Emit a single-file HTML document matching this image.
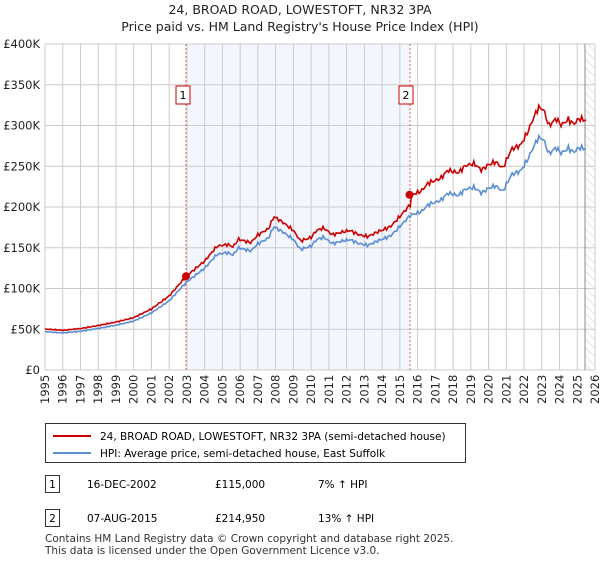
<!DOCTYPE html>
<html><head><meta charset="utf-8"><style>
body{margin:0;background:#fff;font-family:"Liberation Sans","DejaVu Sans",sans-serif;}
svg text{font-family:"DejaVu Sans","Liberation Sans",sans-serif;}
</style></head><body>
<svg id="s" width="600" height="560" xmlns="http://www.w3.org/2000/svg">
<defs><pattern id="h" width="6" height="6" patternUnits="userSpaceOnUse" patternTransform="rotate(-45)"><line x1="0" y1="0" x2="0" y2="6" stroke="#ccc" stroke-width="1"/></pattern></defs>
<text x="300" y="14" font-size="12.5" text-anchor="middle" fill="#222">24, BROAD ROAD, LOWESTOFT, NR32 3PA</text>
<text x="300" y="31" font-size="12.5" text-anchor="middle" fill="#222">Price paid vs. HM Land Registry's House Price Index (HPI)</text>
<rect x="186" y="44" width="224" height="326" fill="#eef2fc" opacity="0.7"/>
<rect x="585" y="44" width="10" height="326" fill="url(#h)"/>
<g id="grid" stroke="#cccccc" stroke-width="1"></g>
<line x1="585" y1="44" x2="585" y2="370" stroke="#888" stroke-width="1"/>
<line x1="186" y1="44" x2="186" y2="370" stroke="#e06060" stroke-dasharray="2,2" stroke-width="1"/>
<line x1="410" y1="44" x2="410" y2="370" stroke="#e06060" stroke-dasharray="2,2" stroke-width="1"/>
<polyline id="blue" fill="none" stroke="#5b8fd4" stroke-width="1.6"/>
<polyline id="red" fill="none" stroke="#cc0000" stroke-width="1.6"/>
<circle cx="186" cy="276.3" r="4" fill="#cc0000"/>
<circle cx="409.5" cy="194.8" r="4" fill="#cc0000"/>
<rect x="176" y="86" width="14" height="18" fill="#fff" stroke="#cc0000"/>
<text x="183" y="99" font-size="11" text-anchor="middle">1</text>
<rect x="399" y="86" width="14" height="18" fill="#fff" stroke="#cc0000"/>
<text x="406" y="99" font-size="11" text-anchor="middle">2</text>
<g id="lab" font-size="11.5" fill="#222"></g>
<rect x="45.5" y="423.5" width="420" height="39" fill="#fff" stroke="#333"/>
<line x1="53" y1="436" x2="91" y2="436" stroke="#cc0000" stroke-width="2"/>
<line x1="53" y1="453" x2="91" y2="453" stroke="#5b8fd4" stroke-width="2"/>
<text x="100" y="440" font-size="10.5">24, BROAD ROAD, LOWESTOFT, NR32 3PA (semi-detached house)</text>
<text x="100" y="457" font-size="10.5">HPI: Average price, semi-detached house, East Suffolk</text>
<rect x="45.5" y="475.5" width="14" height="17" fill="#fff" stroke="#333"/>
<text x="52.5" y="488" font-size="10.5" text-anchor="middle">1</text>
<text x="87" y="488" font-size="10.5">16-DEC-2002</text>
<text x="215" y="488" font-size="10.5">£115,000</text>
<text x="318" y="488" font-size="10.5">7% ↑ HPI</text>
<rect x="45.5" y="509.5" width="14" height="17" fill="#fff" stroke="#333"/>
<text x="52.5" y="522" font-size="10.5" text-anchor="middle">2</text>
<text x="87" y="522" font-size="10.5">07-AUG-2015</text>
<text x="215" y="522" font-size="10.5">£214,950</text>
<text x="318" y="522" font-size="10.5">13% ↑ HPI</text>
<text x="45" y="542" font-size="10.5" fill="#333">Contains HM Land Registry data © Crown copyright and database right 2025.</text>
<text x="45" y="554" font-size="10.5" fill="#333">This data is licensed under the Open Government Licence v3.0.</text>
</svg>
<script>
var X=function(y){return 45+(y-1995)*550/31},Y=function(v){return 370-v*0.815};
var g=document.getElementById('grid'),l=document.getElementById('lab'),ns='http://www.w3.org/2000/svg';
function el(p,t,a,txt){var e=document.createElementNS(ns,t);for(var k in a)e.setAttribute(k,a[k]);if(txt)e.textContent=txt;p.appendChild(e);}
for(var y=1995;y<=2026;y++){var x=X(y);el(g,'line',{x1:x,y1:44,x2:x,y2:370});
el(l,'text',{x:0,y:0,transform:'translate('+(x+4)+',404) rotate(-90)'},''+y);}
for(var v=0;v<=400;v+=50){var yy=Y(v);el(g,'line',{x1:45,y1:yy,x2:595,y2:yy});
el(l,'text',{x:40,y:yy+4,'text-anchor':'end'},v==0?'£0':'£'+v+'K');}
var k=[[1995,47],[1996,45.5],[1997,47.5],[1998,51],[1999,55],[2000,60],[2001,70],[2002,85],[2002.96,107.5],[2004,125],[2004.7,142],[2005.3,144],[2005.6,141],[2005.9,150],[2006.6,146],[2007,155],[2007.6,162],[2007.9,176],[2008.5,168],[2009,160],[2009.4,148],[2010,152],[2010.3,160],[2010.7,163],[2011.2,155],[2011.7,158],[2012.2,160],[2012.7,155],[2013.2,153],[2013.7,158],[2014.2,162],[2014.5,165],[2015,176],[2015.6,190],[2016.2,194],[2016.6,203],[2017.3,208],[2017.7,217],[2018.3,214],[2018.7,222],[2019.2,224],[2019.6,217],[2020,223],[2020.4,226],[2020.8,219],[2021.3,240],[2021.8,244],[2022.2,258],[2022.5,272],[2022.8,285],[2023.1,283],[2023.4,265],[2023.8,273],[2024.1,266],[2024.5,272],[2024.8,267],[2025.1,273],[2025.5,271]];
function hpi(t){for(var i=0;i<k.length-1;i++){if(t<=k[i+1][0]){var f=(t-k[i][0])/(k[i+1][0]-k[i][0]);return k[i][1]+f*(k[i+1][1]-k[i][1]);}}return k[k.length-1][1];}
var b=[],r=[];
for(var t=1995;t<=2025.5;t+=1/12){var v=hpi(t)*(1+0.008*Math.sin(t*23.7)+0.006*Math.sin(t*41.3));
b.push(X(t).toFixed(1)+','+Y(v).toFixed(1));var f=t<2015.6?1.07:1.13;r.push(X(t).toFixed(1)+','+Y(v*f).toFixed(1));}
document.getElementById('blue').setAttribute('points',b.join(' '));
document.getElementById('red').setAttribute('points',r.join(' '));
</script>
</body></html>
